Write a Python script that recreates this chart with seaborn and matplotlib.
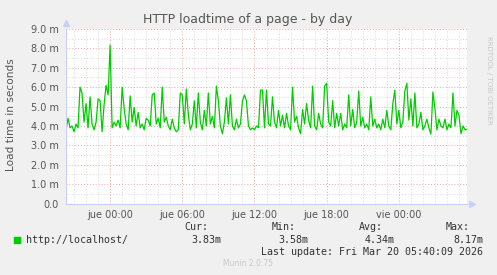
import numpy as np
import pandas as pd
import matplotlib
matplotlib.use("Agg")
import matplotlib.pyplot as plt
from matplotlib.ticker import MultipleLocator, FixedLocator
import seaborn as sns

# ---- data (load time in milliseconds, 10-minute samples) ----
start_hour = -3.667          # hours relative to "jue 00:00"
step_hours = 1.0 / 6.0
load_ms = [
    3.8, 4.4, 3.9, 4.0, 3.7, 4.1, 3.9, 6.0, 5.7, 4.2,
    5.15, 3.9, 5.5, 4.1, 3.8, 4.2, 5.4, 5.3, 3.7, 5.1,
    6.1, 5.6, 8.17, 3.9, 4.2, 4.0, 4.3, 3.9, 6.0, 4.9,
    4.1, 3.8, 5.55, 4.2, 4.95, 4.0, 4.7, 3.9, 4.1, 3.8,
    4.4, 4.3, 4.0, 5.6, 5.7, 4.1, 4.4, 3.9, 6.0, 4.2,
    4.45, 4.0, 3.8, 4.35, 3.9, 3.7, 3.8, 5.7, 5.6, 4.1,
    5.9, 4.6, 3.8, 4.1, 5.3, 3.9, 5.7, 4.2, 3.8, 4.8,
    4.0, 5.7, 4.1, 4.5, 3.9, 6.05, 5.3, 4.0, 3.6, 4.2,
    5.45, 4.1, 5.6, 4.0, 3.8, 4.35, 3.9, 4.1, 5.3, 5.6,
    5.3, 4.0, 3.8, 3.9, 3.8, 4.0, 3.9, 5.85, 5.85, 3.9,
    5.85, 4.1, 4.0, 5.5, 4.2, 3.9, 4.8, 4.0, 4.55, 3.9,
    4.65, 4.0, 3.8, 6.0, 4.2, 4.5, 3.9, 3.6, 4.85, 4.1,
    5.15, 4.3, 3.9, 6.05, 4.0, 3.8, 4.65, 4.1, 3.9, 6.05,
    6.2, 4.2, 4.0, 5.3, 3.9, 4.65, 4.0, 4.65, 3.8, 4.1,
    3.9, 5.6, 4.0, 4.85, 3.9, 4.2, 5.8, 4.0, 4.45, 3.9,
    4.1, 3.8, 5.5, 4.0, 4.35, 3.9, 4.1, 3.8, 4.35, 3.9,
    4.8, 4.0, 3.8, 5.15, 5.85, 4.1, 4.8, 3.9, 4.2, 5.8,
    6.2, 4.3, 5.4, 4.0, 5.7, 3.9, 4.1, 4.7, 3.8, 4.0,
    4.35, 3.9, 3.58, 5.75, 4.9, 3.8, 4.35, 4.0, 3.9, 4.35,
    3.8, 4.1, 3.9, 5.7, 4.0, 4.8, 4.55, 3.6, 4.0, 3.8,
    3.83,
]
x_tick_hours = [0, 6, 12, 18, 24]
x_tick_labels = ["jue 00:00", "jue 06:00", "jue 12:00", "jue 18:00", "vie 00:00"]
y_ticks = [0, 1, 2, 3, 4, 5, 6, 7, 8, 9]
y_tick_labels = ["0.0", "1.0 m", "2.0 m", "3.0 m", "4.0 m", "5.0 m",
                 "6.0 m", "7.0 m", "8.0 m", "9.0 m"]
series_name = "http://localhost/"
stat_names = ["Cur:", "Min:", "Avg:", "Max:"]
stat_values = ["3.83m", "3.58m", "4.34m", "8.17m"]
title = "HTTP loadtime of a page - by day"
y_label = "Load time in seconds"
last_update = "Last update: Fri Mar 20 05:40:09 2026"
footer = "Munin 2.0.75"
side_text = "RRDTOOL / TOBI OETIKER"

hours = start_hour + step_hours * np.arange(len(load_ms))
df = pd.DataFrame({"hour": hours, "load": load_ms})

# ---- style ----
sns.set_style("white")
plt.rcParams["font.family"] = ["DejaVu Sans"]

W, H = 497, 275
fig = plt.figure(figsize=(W / 100, H / 100), dpi=100, facecolor="#F0F0F0")
L, R, T, B = 66, 467, 29, 203.5
ax = fig.add_axes([L / W, 1 - B / H, (R - L) / W, (B - T) / H])
ax.set_facecolor("white")

sns.lineplot(data=df, x="hour", y="load", ax=ax, color="#00CC00",
             linewidth=0.9, legend=False)

ax.set_xlim(start_hour, start_hour + 200 * step_hours)
ax.set_ylim(0, 9)

# grid
ax.xaxis.set_major_locator(FixedLocator(x_tick_hours))
ax.xaxis.set_minor_locator(MultipleLocator(1))
ax.yaxis.set_major_locator(FixedLocator(y_ticks))
ax.yaxis.set_minor_locator(MultipleLocator(0.5))
ax.grid(which="minor", color="#D8D8D8", linestyle=(0, (1, 2)), linewidth=0.7)
ax.grid(which="major", color="#E8A8A8", linestyle=(0, (1, 2)), linewidth=0.7)
ax.set_axisbelow(True)

ax.set_xticks(x_tick_hours)
ax.set_xticklabels(x_tick_labels)
ax.set_yticks(y_ticks)
ax.set_yticklabels(y_tick_labels)
ax.tick_params(axis="both", which="both", length=2, color="#D0D0D0",
               labelsize=7, labelcolor="#555555", pad=3)
ax.set_xlabel("")
ax.set_ylabel("")

for s in ["top", "right"]:
    ax.spines[s].set_visible(False)
for s in ["left", "bottom"]:
    ax.spines[s].set_color("#C8D0F5")
    ax.spines[s].set_linewidth(0.8)

# axis arrows
ax.plot([0], [1.035], marker="^", color="#C8D0F5", markersize=4,
        transform=ax.transAxes, clip_on=False)
ax.plot([1.012], [0], marker=">", color="#C8D0F5", markersize=4,
        transform=ax.transAxes, clip_on=False)

# texts
def fx(px):
    return px / W

def fy(py):
    return 1 - py / H

fig.text(fx(248), fy(19), title, ha="center", va="center", fontsize=9,
         color="#555555")
fig.text(fx(11), fy(115), y_label, ha="center", va="center", rotation=90,
         fontsize=7.6, color="#555555")
fig.text(fx(489), fy(80), side_text, ha="center", va="center", rotation=270,
         fontsize=5, color="#C8C8C8")

mono = "DejaVu Sans Mono"
stat_right = [208, 296, 383, 470]
val_right = [221, 308, 395, 483]
for name, xr in zip(stat_names, stat_right):
    fig.text(fx(xr), fy(227), name, ha="right", va="center", family=mono,
             fontsize=7.2, color="#333333")
for val, xr in zip(stat_values, val_right):
    fig.text(fx(xr), fy(240), val, ha="right", va="center", family=mono,
             fontsize=7.2, color="#333333")
fig.text(fx(26), fy(240), series_name, ha="left", va="center", family=mono,
         fontsize=7.2, color="#333333")
fig.patches.append(plt.Rectangle((fx(14), fy(242.5)), 5.5 / W, 5.5 / H,
                                 transform=fig.transFigure, color="#00CC00"))
fig.text(fx(483), fy(252), last_update, ha="right", va="center", family=mono,
         fontsize=7.2, color="#333333")
fig.text(fx(248), fy(263), footer, ha="center", va="center", fontsize=5.5,
         color="#C8C8C8")

fig.savefig("out.png", dpi=100, facecolor=fig.get_facecolor())
